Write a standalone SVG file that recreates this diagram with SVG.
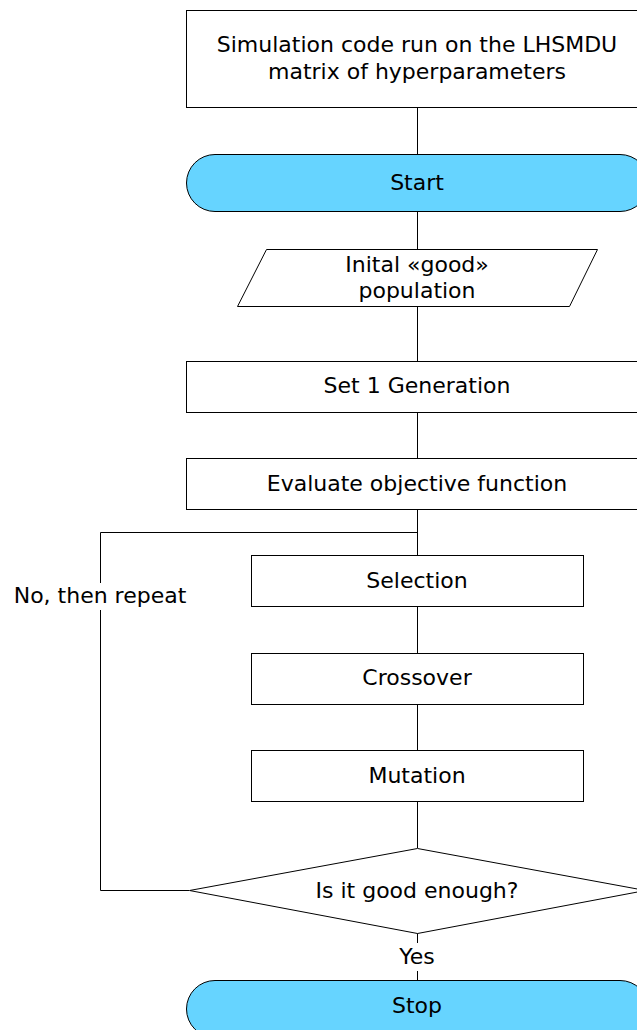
<svg xmlns="http://www.w3.org/2000/svg" width="637" height="1030" viewBox="0 0 637 1030">
<style>
.box{fill:#fff;stroke:#000;stroke-width:1}
.term{fill:#66d4ff;stroke:#000;stroke-width:1}
.line{fill:none;stroke:#000;stroke-width:1}
text{font-family:"DejaVu Sans","Liberation Sans",sans-serif;font-size:22px;fill:#000;text-anchor:middle}
.bg{fill:#fff;stroke:none}
</style>
<rect width="637" height="1030" fill="#fff"/>
<g id="connectors">
<path class="line" d="M417.5 107V154M417.5 211V249M417.5 307V361M417.5 412V458M417.5 509V555M417.5 606V653M417.5 704V750M417.5 802V848M417.5 933V980"/>
<path class="line" d="M417.5 532.5H100.5V890.5H189"/>
</g>
<g id="n-sim"><rect class="box" x="186.5" y="10.5" width="462" height="97"/><text x="417" y="52">Simulation code run on the LHSMDU</text><text x="417" y="79">matrix of hyperparameters</text></g>
<g id="n-start"><rect class="term" x="186.5" y="154.5" width="462" height="57" rx="28.5"/><text x="417" y="190">Start</text></g>
<g id="n-init"><polygon class="box" points="266.5,249.5 597.5,249.5 569.5,306.5 237.5,306.5"/><text x="417" y="272">Inital «good»</text><text x="417" y="298">population</text></g>
<g id="n-set"><rect class="box" x="186.5" y="361.5" width="462" height="51"/><text x="417" y="393">Set 1 Generation</text></g>
<g id="n-eval"><rect class="box" x="186.5" y="458.5" width="462" height="51"/><text x="417" y="491">Evaluate objective function</text></g>
<g id="n-sel"><rect class="box" x="251.5" y="555.5" width="332" height="51"/><text x="417" y="588">Selection</text></g>
<g id="n-cross"><rect class="box" x="251.5" y="653.5" width="332" height="51"/><text x="417" y="685">Crossover</text></g>
<g id="n-mut"><rect class="box" x="251.5" y="750.5" width="332" height="51"/><text x="417" y="783">Mutation</text></g>
<g id="n-dec"><polygon class="box" points="417.5,848.5 645.5,890.5 417.5,933.5 189.5,890.5"/><text x="417" y="898">Is it good enough?</text></g>
<g id="n-stop"><rect class="term" x="186.5" y="980.5" width="462" height="57" rx="28.5"/><text x="417" y="1013">Stop</text></g>
<g id="label-no"><rect class="bg" x="12" y="583" width="176" height="27"/><text x="100" y="603">No, then repeat</text></g>
<g id="label-yes"><rect class="bg" x="396" y="943" width="42" height="28"/><text x="417" y="964">Yes</text></g>
</svg>
